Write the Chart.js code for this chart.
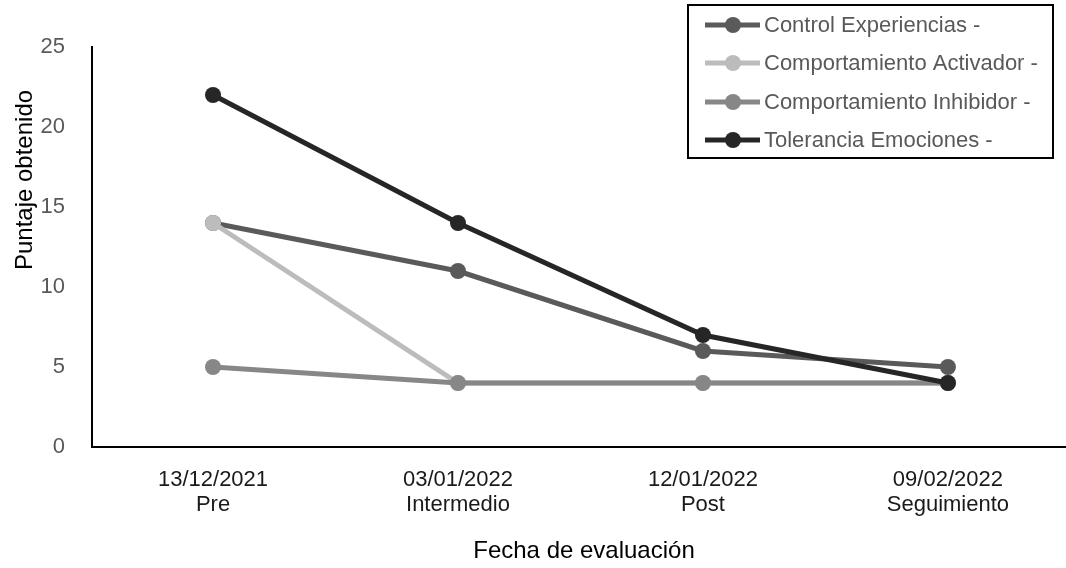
<!DOCTYPE html>
<html>
<head>
<meta charset="utf-8">
<script src="https://cdn.jsdelivr.net/npm/chart.js@4.4.1/dist/chart.umd.min.js"></script>
<style>
html,body{margin:0;padding:0;background:#fff;}
#wrap{width:1066px;height:568px;position:relative;}
</style>
</head>
<body>
<div id="wrap"><canvas id="c" width="1066" height="568"></canvas></div>
<script>
const categories = [["13/12/2021","Pre"],["03/01/2022","Intermedio"],["12/01/2022","Post"],["09/02/2022","Seguimiento"]];
const seriesNames = ["Control Experiencias -","Comportamiento Activador -","Comportamiento Inhibidor -","Tolerancia Emociones -"];
const controlExperiencias = [14, 11, 6, 5];
const comportamientoActivador = [14, 4, 4, 4];
const comportamientoInhibidor = [5, 4, 4, 4];
const toleranciaEmociones = [22, 14, 7, 4];
const yTicks = [0, 5, 10, 15, 20, 25];
const seriesColors = ["#5a5a5a", "#bcbcbc", "#878787", "#262626"];
const xTitle = "Fecha de evaluación";
const yTitle = "Puntaje obtenido";

const FONT = "'Liberation Sans', Arial, sans-serif";
const allSeries = [controlExperiencias, comportamientoActivador, comportamientoInhibidor, toleranciaEmociones];

const datasets = allSeries.map((vals, i) => ({
  label: seriesNames[i],
  data: vals.map((v, j) => ({x: j, y: v})),
  borderColor: seriesColors[i],
  backgroundColor: seriesColors[i],
  pointBackgroundColor: seriesColors[i],
  pointBorderColor: seriesColors[i],
  borderWidth: 5,
  pointRadius: 8,
  pointBorderWidth: 0,
  tension: 0,
  order: 3 - i
}));

const customDraw = {
  id: 'customDraw',
  afterDraw(chart) {
    const ctx = chart.ctx;
    ctx.save();
    ctx.fillStyle = '#000';
    ctx.font = "24px " + FONT;
    ctx.textAlign = 'center';
    ctx.textBaseline = 'middle';
    ctx.fillText(xTitle, 584, 551);
    ctx.save();
    ctx.translate(25, 180);
    ctx.rotate(-Math.PI / 2);
    ctx.fillText(yTitle, 0, 0);
    ctx.restore();
    ctx.strokeStyle = '#000';
    ctx.lineWidth = 2;
    ctx.strokeRect(688, 5, 365, 153);
    const rows = [25, 63, 102, 140];
    chart.data.datasets.forEach((ds, i) => {
      const y = rows[i];
      ctx.strokeStyle = ds.borderColor;
      ctx.lineWidth = 5;
      ctx.beginPath();
      ctx.moveTo(705, y);
      ctx.lineTo(760, y);
      ctx.stroke();
      ctx.fillStyle = ds.borderColor;
      ctx.beginPath();
      ctx.arc(733, y, 8, 0, Math.PI * 2);
      ctx.fill();
      ctx.fillStyle = '#595959';
      ctx.textAlign = 'left';
      ctx.textBaseline = 'middle';
      ctx.font = "22px " + FONT;
      ctx.fillText(ds.label, 764, y + 1);
    });
    ctx.restore();
  }
};

new Chart(document.getElementById('c'), {
  type: 'line',
  data: { datasets },
  options: {
    responsive: false,
    animation: false,
    devicePixelRatio: 1,
    layout: { autoPadding: false, padding: { top: 47, right: 0, left: 0, bottom: 0 } },
    plugins: { legend: { display: false }, tooltip: { enabled: false } },
    scales: {
      x: {
        type: 'linear',
        min: -0.494,
        max: 3.482,
        grid: { display: false, drawTicks: false },
        border: { display: true, color: '#000', width: 2 },
        afterBuildTicks(scale) { scale.ticks = categories.map((c, i) => ({ value: i })); },
        afterFit(scale) { scale.height = 121; scale.paddingLeft = 0; scale.paddingRight = 0; },
        ticks: {
          autoSkip: false,
          maxRotation: 0,
          padding: 20,
          color: '#1a1a1a',
          font: { family: FONT, size: 22, lineHeight: 1.15 },
          callback: (v) => categories[v]
        }
      },
      y: {
        min: 0,
        max: 25,
        grid: { display: false, drawTicks: false },
        border: { display: true, color: '#000', width: 2 },
        afterBuildTicks(scale) { scale.ticks = yTicks.map(v => ({ value: v })); },
        afterFit(scale) { scale.width = 92; },
        ticks: {
          padding: 27,
          color: '#595959',
          font: { family: FONT, size: 22 }
        }
      }
    }
  },
  plugins: [customDraw]
});
</script>
</body>
</html>
